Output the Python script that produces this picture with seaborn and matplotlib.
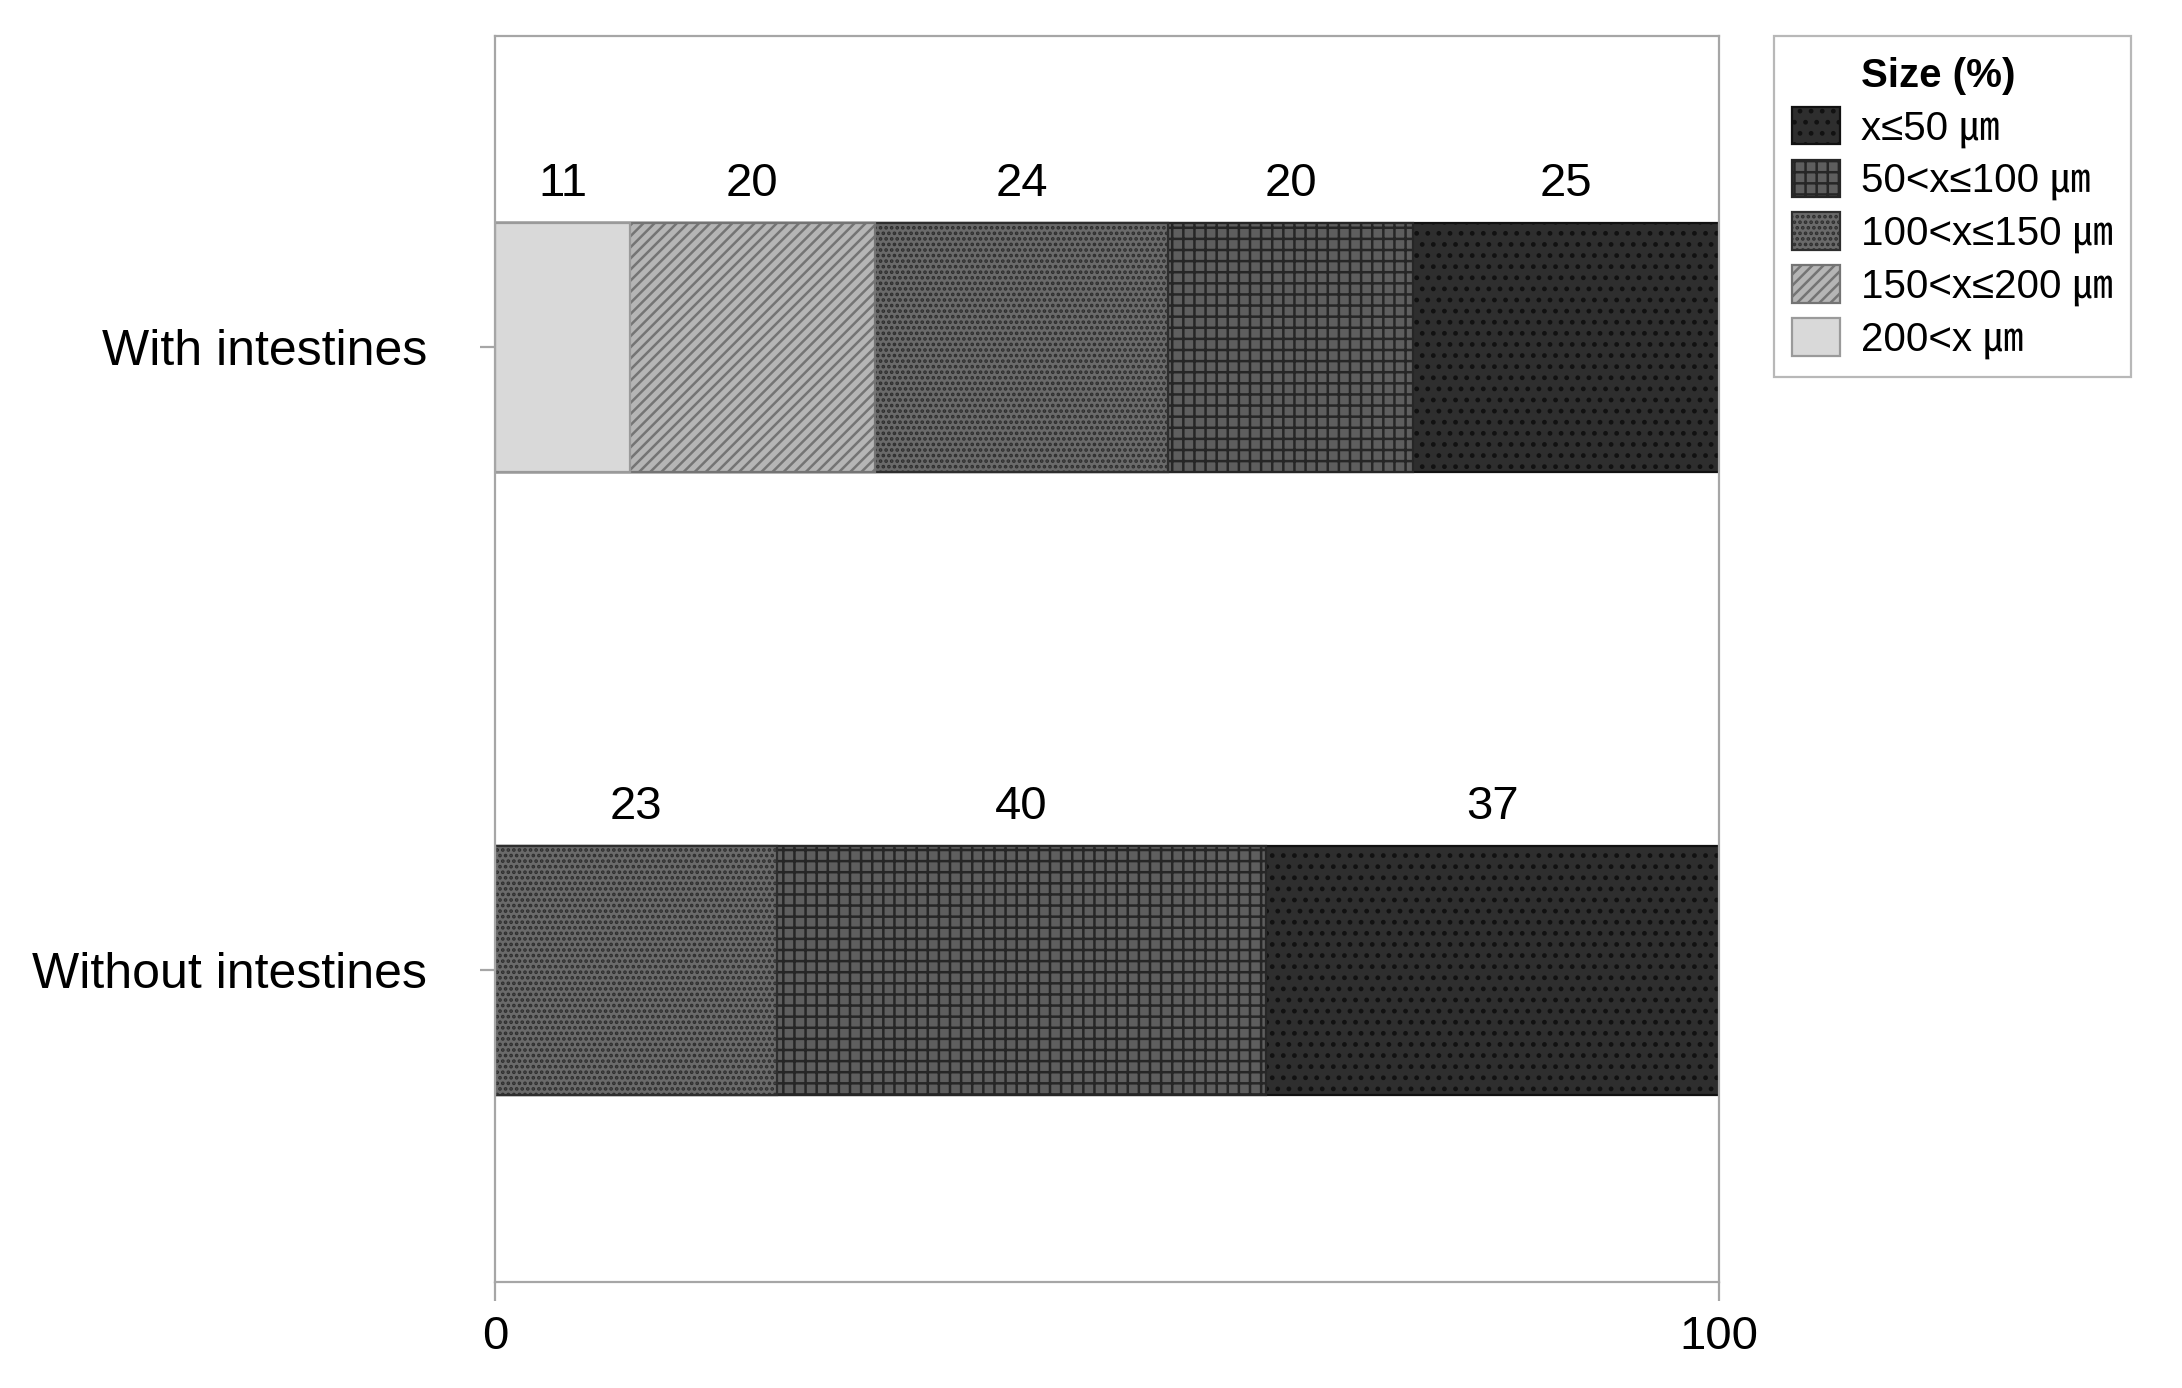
import numpy as np
import pandas as pd
import matplotlib.pyplot as plt
import seaborn as sns
from matplotlib.patches import Patch

# data (percent of particles per size class)
groups = ["With intestines", "Without intestines"]
size_classes = ["x≤50 ㎛", "50<x≤100 ㎛", "100<x≤150 ㎛", "150<x≤200 ㎛", "200<x ㎛"]
with_pct = [25, 20, 24, 20, 11]
without_pct = [37, 40, 23, 0, 0]

# grey fills + hatches, same order as size_classes
face_colors = ["#2e2e2e", "#5e5e5e", "#6a6a6a", "#b5b5b5", "#d9d9d9"]
hatch_colors = ["#111111", "#262626", "#2e2e2e", "#747474", "#9a9a9a"]
hatches = ["...", "+++", "......", "//////", ""]

sns.set_style("white")
plt.rcParams["font.family"] = ["Liberation Sans", "Noto Sans CJK JP"]
plt.rcParams["text.color"] = "black"
plt.rcParams["hatch.linewidth"] = 0.9

fig = plt.figure(figsize=(10.91, 6.94), dpi=200)
ax = fig.add_axes([0.2269, 0.0764, 0.561, 0.8977])

# stacked bars: draw the cumulative totals, widest first
for i, cls in enumerate(size_classes):
    cum = [sum(with_pct[i:]), sum(without_pct[i:])]
    sns.barplot(x=cum, y=groups, orient="h", color=face_colors[i],
                edgecolor=hatch_colors[i], hatch=hatches[i], linewidth=0.8,
                width=0.4, saturation=1, errorbar=None, ax=ax)

# value labels above each segment
for gi, vals in enumerate([with_pct, without_pct]):
    for i, v in enumerate(vals):
        if v == 0:
            continue
        center = sum(vals[i:]) - v / 2
        ax.annotate(str(v), (center, gi - 0.2), xytext=(0, 14),
                    textcoords="offset points", ha="center", va="center",
                    fontsize=17, color="black")

ax.set_xlim(0, 100)
ax.set_xticks([0, 100])
ax.set_ylim(1.5, -0.5)
ax.set_xlabel("")
ax.set_ylabel("")

for sp in ax.spines.values():
    sp.set_visible(True)
    sp.set_color("#a6a6a6")
    sp.set_linewidth(0.8)
ax.tick_params(axis="y", left=True, length=5.5, width=0.8, color="#a6a6a6",
               pad=19, labelsize=18, labelcolor="black")
ax.tick_params(axis="x", bottom=True, length=7, width=0.8, color="#a6a6a6",
               pad=5, labelsize=17, labelcolor="black")

# legend, with the title as a blank first row so it lines up with the labels
handles = [Patch(facecolor="none", edgecolor="none")]
for i in range(len(size_classes)):
    handles.append(Patch(facecolor=face_colors[i], edgecolor=hatch_colors[i],
                         hatch=hatches[i], linewidth=0.8))
labels = ["Size (%)"] + size_classes
leg = fig.legend(handles, labels, loc="upper left", bbox_to_anchor=(0.813, 0.974),
                 frameon=True, fancybox=False, edgecolor="#a6a6a6", fontsize=14.5,
                 handlelength=1.2, handleheight=1.05, handletextpad=0.5,
                 labelspacing=0.3, borderpad=0.45, borderaxespad=0)
for t in leg.get_texts():
    t.set_color("black")
leg.get_texts()[0].set_fontweight("bold")
leg.get_frame().set_linewidth(0.8)

fig.savefig("out.png", dpi=200)
